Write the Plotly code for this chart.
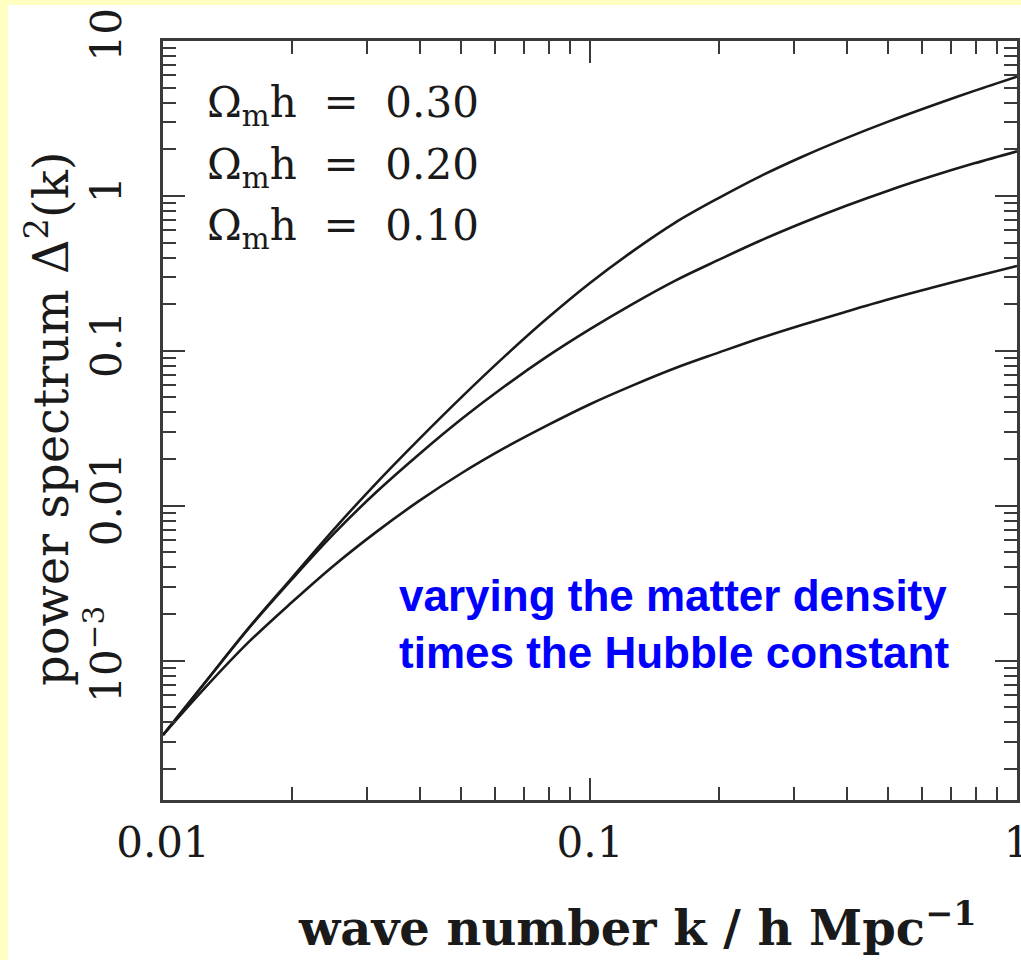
import plotly.graph_objects as go

# wave number k in h/Mpc (0.1 dex spacing)
k = [0.01, 0.0126, 0.0158, 0.02, 0.0251, 0.0316, 0.0398, 0.0501, 0.0631, 0.0794,
     0.1, 0.126, 0.158, 0.2, 0.251, 0.316, 0.398, 0.501, 0.631, 0.794, 1.0]

# dimensionless power spectrum Delta^2(k) for three values of Omega_m h
delta2_030 = [3.31e-4, 7.33e-4, 1.60e-3, 3.40e-3, 7.01e-3, 0.0140, 0.0269, 0.0504, 0.0920, 0.162,
              0.274, 0.440, 0.670, 0.968, 1.343, 1.803, 2.360, 3.027, 3.819, 4.764, 5.888]
delta2_020 = [3.31e-4, 7.33e-4, 1.59e-3, 3.33e-3, 6.58e-3, 0.01225, 0.0215, 0.0364, 0.0590, 0.0920,
              0.138, 0.201, 0.283, 0.386, 0.515, 0.673, 0.863, 1.084, 1.337, 1.622, 1.941]
delta2_010 = [3.31e-4, 6.76e-4, 1.30e-3, 2.37e-3, 4.10e-3, 6.78e-3, 0.01074, 0.01626, 0.0236, 0.0330,
              0.0452, 0.0598, 0.0771, 0.0973, 0.121, 0.148, 0.179, 0.215, 0.255, 0.301, 0.353]

series_labels = ["Ω<sub>m</sub>h  =  0.30", "Ω<sub>m</sub>h  =  0.20", "Ω<sub>m</sub>h  =  0.10"]

x_tickvals = [0.01, 0.1, 1]
x_ticktext = ["0.01", "0.1", "1"]
y_tickvals = [1e-3, 0.01, 0.1, 1, 10]
y_ticktext = ["10<sup>−3</sup>", "0.01", "0.1", "1", "10"]

W, H = 1021, 960
L, R, T, B = 163, 4, 41, 160
pw = W - L - R
ph = H - T - B

SERIF = "DejaVu Serif"
INK = "#1a1a1a"
FRAME = "#3a3a3a"
PAGE_YELLOW = "#ffffc2"


def px_x(p):
    return (p - L) / pw


def px_y(p):
    return (H - B - p) / ph


def log_minor(lo_exp, hi_exp):
    # 2..9 times each power of ten
    return [m * 10.0 ** e for e in range(lo_exp, hi_exp) for m in range(2, 10)]


fig = go.Figure()
for ys in (delta2_030, delta2_020, delta2_010):
    fig.add_trace(go.Scatter(
        x=k, y=ys, mode="lines",
        line=dict(color=INK, width=2.6, shape="spline", smoothing=1.0, simplify=False),
        showlegend=False, hoverinfo="skip",
    ))

axis_common = dict(
    type="log",
    automargin=False,
    showgrid=False,
    zeroline=False,
    showline=True,
    linecolor=FRAME,
    linewidth=3,
    mirror="allticks",
    ticks="inside",
    ticklen=22,
    tickwidth=2,
    tickcolor=FRAME,
    tickfont=dict(family=SERIF, size=42, color=INK),
    ticklabeloverflow="allow",
)

fig.update_xaxes(
    **axis_common,
    range=[-2, 0],
    tickvals=x_tickvals,
    ticktext=x_ticktext,
    ticklabelstandoff=4,
    minor=dict(tickmode="array", tickvals=log_minor(-2, 0), ticks="inside",
               ticklen=13, tickwidth=2, tickcolor=FRAME, showgrid=False),
)
fig.update_yaxes(
    **axis_common,
    range=[-3.9, 1],
    tickvals=y_tickvals,
    ticktext=y_ticktext,
    tickangle=-90,
    ticklabelstandoff=22,
    minor=dict(tickmode="array", tickvals=log_minor(-4, 1), ticks="inside",
               ticklen=13, tickwidth=2, tickcolor=FRAME, showgrid=False),
)

annotations = []
# legend-like labels in the upper left
for i, lab in enumerate(series_labels):
    annotations.append(dict(
        x=px_x(205), xref="paper", y=px_y(106 + i * 61), yref="paper",
        xanchor="left", yanchor="middle", showarrow=False,
        text=lab, font=dict(family=SERIF, size=42, color=INK),
    ))

# explanatory note
annotations.append(dict(
    x=px_x(397), xref="paper", y=px_y(624), yref="paper",
    xanchor="left", yanchor="middle", showarrow=False, align="left",
    text="<b>varying the matter density<br>times the Hubble constant</b>",
    font=dict(family="Liberation Sans", size=44, color="#0000ff"),
))

# axis titles
annotations.append(dict(
    x=px_x(48), xref="paper", y=px_y(419), yref="paper",
    xanchor="center", yanchor="middle", showarrow=False,
    text="power spectrum Δ<sup>2</sup>(k)", textangle=-90,
    font=dict(family=SERIF, size=48, color=INK),
))
annotations.append(dict(
    x=px_x(637), xref="paper", y=px_y(924), yref="paper",
    xanchor="center", yanchor="middle", showarrow=False,
    text="<b>wave number k / h Mpc<sup>−1</sup></b>",
    font=dict(family=SERIF, size=48, color=INK),
))

shapes = [
    # white sheet over the yellow page, leaving a thin margin at left and top
    dict(type="rect", xref="paper", yref="paper", layer="below",
         x0=px_x(8), x1=px_x(W + 5), y0=px_y(H + 5), y1=px_y(5),
         fillcolor="white", line=dict(width=0)),
]

fig.update_layout(
    width=W, height=H,
    margin=dict(l=L, r=R, t=T, b=B, pad=0, autoexpand=False),
    paper_bgcolor=PAGE_YELLOW,
    plot_bgcolor="white",
    annotations=annotations,
    shapes=shapes,
)

fig.write_html("out.html")
